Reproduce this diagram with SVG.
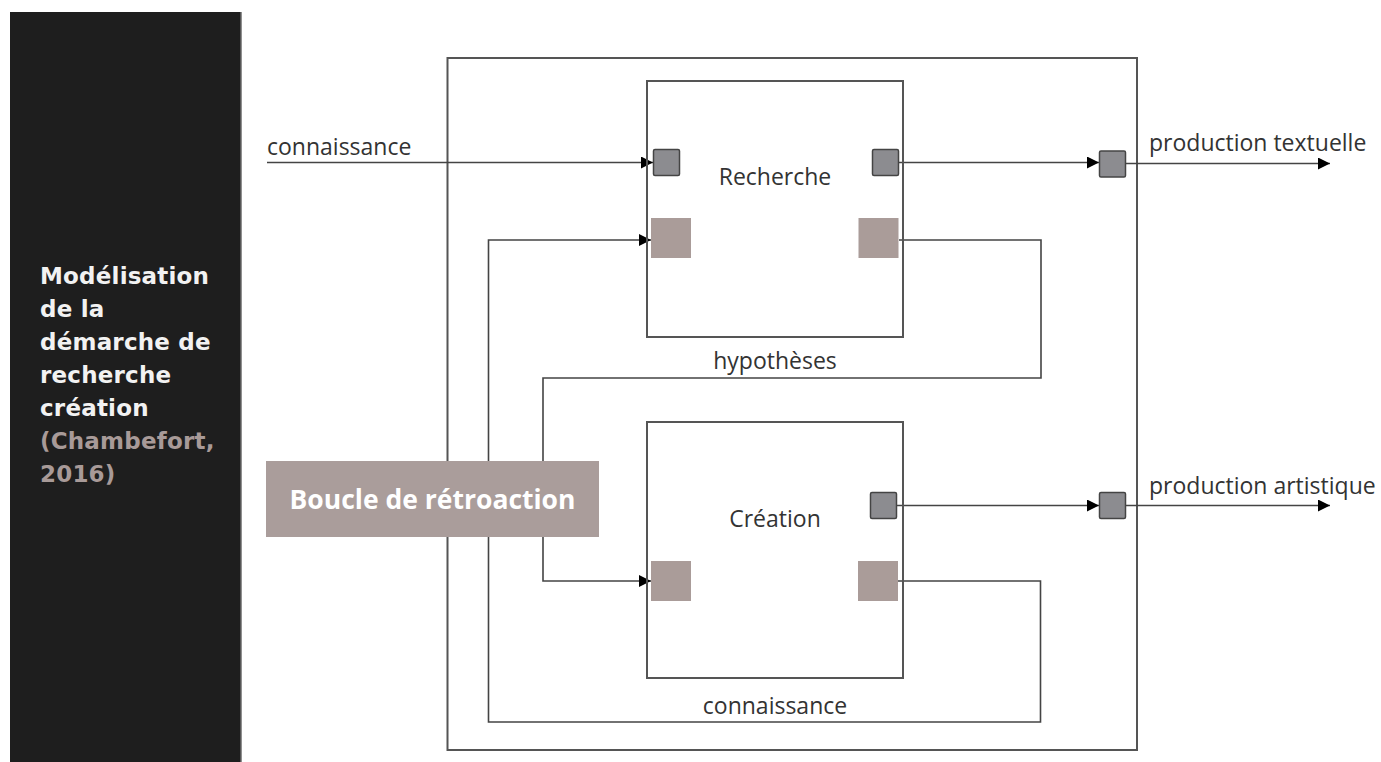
<svg xmlns="http://www.w3.org/2000/svg" width="1381" height="762" viewBox="0 0 1381 762">
<style>
.panel-t{font-family:"DejaVu Sans",Verdana,sans-serif;font-weight:bold;font-size:23px;letter-spacing:0.2px;fill:#f2f2f2}
.cite{fill:#a89a98}
.lbl{font-family:"Open Sans","Noto Sans",sans-serif;font-size:23px;fill:#333333}
.box{fill:none;stroke:#555555;stroke-width:2}
.conn{fill:none;stroke:#444444;stroke-width:1.6}
.port{fill:#8c8c90;stroke:#444444;stroke-width:1.5}
.fb{fill:#aa9c99}
.boucle{font-family:"Open Sans","Noto Sans",sans-serif;font-weight:bold;font-size:26.5px;fill:#ffffff}
</style>
<defs>
<marker id="arr" markerUnits="userSpaceOnUse" markerWidth="13" markerHeight="13" refX="12" refY="6" orient="auto">
<path d="M0,0 L12,6 L0,12 z" fill="#000000"/>
</marker>
</defs>
<rect width="1381" height="762" fill="#ffffff"/>
<g id="side-panel">
<rect x="10" y="12" width="231" height="750" fill="#1e1e1e"/>
<line x1="241" y1="12" x2="241" y2="762" stroke="#6a6a6a" stroke-width="1.5"/>
<text class="panel-t" x="40" y="284">Modélisation</text>
<text class="panel-t" x="40" y="317">de la</text>
<text class="panel-t" x="40" y="350">démarche de</text>
<text class="panel-t" x="40" y="383">recherche</text>
<text class="panel-t" x="40" y="416">création</text>
<text class="panel-t cite" x="40" y="449">(Chambefort,</text>
<text class="panel-t cite" x="40" y="482">2016)</text>
</g>
<g id="outer-system">
<rect class="box" x="447.5" y="58" width="689.5" height="692"/>
</g>
<g id="connectors">
<path class="conn" d="M267,162.5 H653" marker-end="url(#arr)"/>
<path class="conn" d="M898,162.5 H1099" marker-end="url(#arr)"/>
<path class="conn" d="M1126,163.5 H1330" marker-end="url(#arr)"/>
<path class="conn" d="M899,240 H1041 V378 H543 V581 H651" marker-end="url(#arr)"/>
<path class="conn" d="M898,581 H1040.5 V722 H488.5 V240 H651" marker-end="url(#arr)"/>
<path class="conn" d="M897,505.5 H1099" marker-end="url(#arr)"/>
<path class="conn" d="M1126,505.5 H1330" marker-end="url(#arr)"/>
</g>
<g id="label-connaissance-in"><text class="lbl" x="267" y="155">connaissance</text></g>
<g id="label-textuelle"><text class="lbl" x="1149" y="151">production textuelle</text></g>
<g id="label-artistique"><text class="lbl" x="1149" y="494">production artistique</text></g>
<g id="label-hypotheses"><text class="lbl" x="775" y="369" text-anchor="middle">hypothèses</text></g>
<g id="label-connaissance-loop"><text class="lbl" x="775" y="714" text-anchor="middle">connaissance</text></g>
<g id="recherche">
<rect class="box" x="647" y="81" width="256" height="256"/>
<text class="lbl" x="775" y="185" text-anchor="middle">Recherche</text>
<rect class="port" x="653.5" y="149.5" width="26" height="26" rx="1.5"/>
<rect class="port" x="872.5" y="149.5" width="26" height="26" rx="1.5"/>
<rect class="fb" x="651" y="218" width="40" height="40"/>
<rect class="fb" x="858.5" y="218" width="40" height="40"/>
</g>
<g id="creation">
<rect class="box" x="647" y="422" width="256" height="256"/>
<text class="lbl" x="775" y="527" text-anchor="middle">Création</text>
<rect class="port" x="870.5" y="492.5" width="26" height="26" rx="1.5"/>
<rect class="fb" x="651" y="561" width="40" height="40"/>
<rect class="fb" x="858" y="561" width="40" height="40"/>
</g>
<g id="out-textuelle">
<rect class="port" x="1099.5" y="151" width="26" height="26" rx="1.5"/>
</g>
<g id="out-artistique">
<rect class="port" x="1099.5" y="492.5" width="26" height="26" rx="1.5"/>
</g>
<g id="boucle-retroaction">
<rect x="266" y="461" width="333" height="76" fill="#aa9d9b"/>
<text class="boucle" x="432.5" y="509" text-anchor="middle">Boucle de rétroaction</text>
</g>
</svg>
